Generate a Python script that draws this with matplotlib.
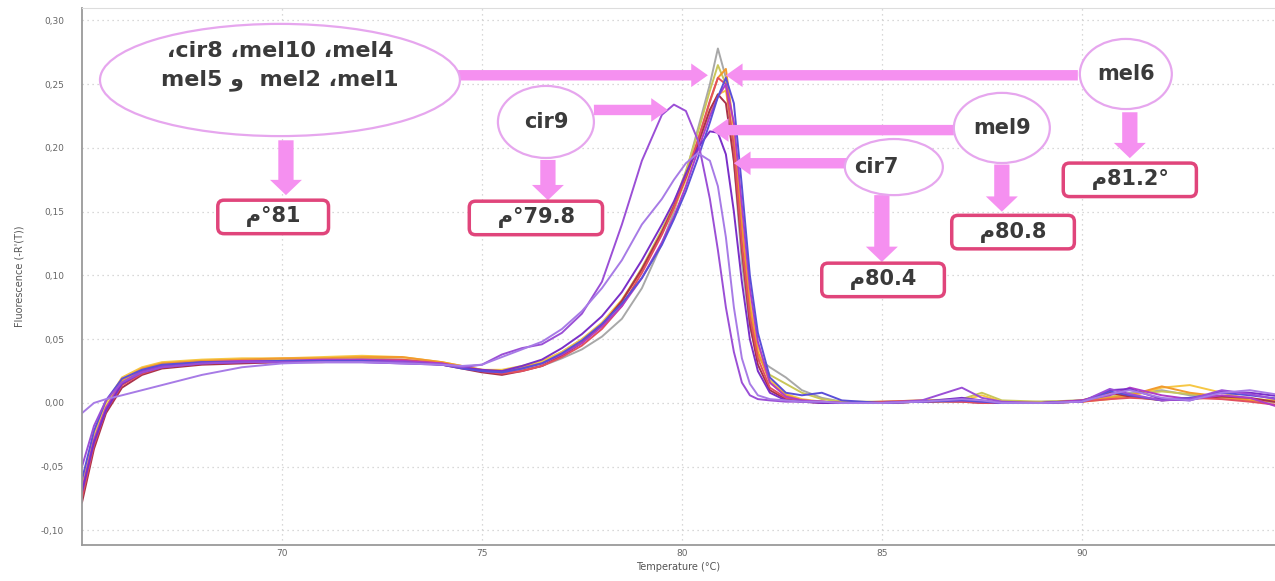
import matplotlib
matplotlib.use('Agg')
import matplotlib.pyplot as plt
from matplotlib.patches import Ellipse
from matplotlib.ticker import FuncFormatter

#--- melt curve data: temperature grid and -R'(T) per sample
temps = [65.0, 65.3, 65.6, 66.0, 66.5, 67.0,
         68.0, 69.0, 70.0, 71.0, 72.0, 73.0, 74.0,
         74.5, 75.0, 75.5, 76.0, 76.5, 77.0,
         77.5, 78.0, 78.5, 79.0, 79.5,
         79.8, 80.1, 80.4, 80.7, 80.9,
         81.1, 81.3, 81.5, 81.7, 81.9,
         82.2, 82.6, 83.0, 83.5, 84.0,
         85.0, 86.0, 87.0, 87.5, 88.0,
         89.0, 90.0, 90.7, 91.2, 92.0,
         92.7, 93.5, 94.2, 95.0]

gray_curve = [-0.068, -0.028, -0.004, 0.016, 0.025, 0.029,
              0.031, 0.032, 0.033, 0.033, 0.033, 0.033, 0.031,
              0.028, 0.025, 0.024, 0.026, 0.029, 0.035,
              0.042, 0.052, 0.066, 0.090, 0.125,
              0.150, 0.180, 0.215, 0.250, 0.278,
              0.255, 0.190, 0.110, 0.060, 0.035,
              0.028, 0.020, 0.010, 0.004, 0.001,
              0.000, 0.001, 0.002, 0.001, 0.000,
              0.001, 0.002, 0.004, 0.008, 0.010,
              0.006, 0.004, 0.002, 0.000]
olive_curve = [-0.066, -0.027, -0.003, 0.017, 0.026, 0.030,
               0.032, 0.033, 0.034, 0.034, 0.035, 0.034, 0.031,
               0.028, 0.025, 0.025, 0.028, 0.032, 0.040,
               0.050, 0.062, 0.080, 0.106, 0.136,
               0.156, 0.182, 0.212, 0.245, 0.265,
               0.250, 0.195, 0.120, 0.065, 0.038,
               0.022, 0.015, 0.008, 0.003, 0.001,
               0.001, 0.002, 0.003, 0.008, 0.002,
               0.001, 0.002, 0.005, 0.007, 0.009,
               0.007, 0.004, 0.002, 0.001]
orange_curve = [-0.072, -0.030, -0.004, 0.018, 0.027, 0.031,
                0.033, 0.034, 0.035, 0.035, 0.036, 0.036, 0.032,
                0.029, 0.026, 0.025, 0.028, 0.031, 0.038,
                0.048, 0.061, 0.080, 0.104, 0.134,
                0.154, 0.178, 0.206, 0.236, 0.255,
                0.262, 0.215, 0.140, 0.075, 0.040,
                0.016, 0.006, 0.002, 0.001, 0.000,
                0.000, 0.001, 0.002, 0.001, 0.000,
                0.000, 0.001, 0.004, 0.006, 0.013,
                0.008, 0.005, 0.002, 0.001]
gold_curve = [-0.064, -0.024, 0.000, 0.020, 0.028, 0.032,
              0.034, 0.035, 0.035, 0.036, 0.037, 0.036, 0.032,
              0.029, 0.026, 0.026, 0.029, 0.033, 0.040,
              0.050, 0.063, 0.081, 0.105, 0.133,
              0.152, 0.175, 0.202, 0.228, 0.242,
              0.245, 0.205, 0.140, 0.080, 0.045,
              0.018, 0.007, 0.003, 0.001, 0.000,
              0.000, 0.001, 0.002, 0.006, 0.001,
              0.000, 0.001, 0.003, 0.005, 0.012,
              0.014, 0.008, 0.003, 0.002]
red_curve = [-0.074, -0.033, -0.006, 0.014, 0.023, 0.028,
             0.031, 0.032, 0.033, 0.033, 0.034, 0.034, 0.031,
             0.028, 0.025, 0.023, 0.025, 0.029, 0.036,
             0.045, 0.058, 0.076, 0.102, 0.132,
             0.153, 0.178, 0.206, 0.237, 0.255,
             0.250, 0.200, 0.125, 0.068, 0.035,
             0.012, 0.004, 0.002, 0.001, 0.000,
             0.001, 0.002, 0.001, 0.000, 0.000,
             0.000, 0.001, 0.003, 0.004, 0.003,
             0.004, 0.003, 0.001, -0.002]
darkred_curve = [-0.078, -0.036, -0.008, 0.012, 0.022, 0.027,
                 0.030, 0.031, 0.032, 0.032, 0.033, 0.033, 0.030,
                 0.027, 0.024, 0.022, 0.025, 0.029, 0.037,
                 0.047, 0.061, 0.080, 0.105, 0.134,
                 0.154, 0.177, 0.203, 0.230, 0.242,
                 0.235, 0.190, 0.120, 0.062, 0.030,
                 0.010, 0.003, 0.001, 0.000, 0.000,
                 0.000, 0.001, 0.001, 0.000, 0.000,
                 0.000, 0.002, 0.008, 0.005, 0.002,
                 0.003, 0.005, 0.004, 0.000]
mel6_curve = [-0.060, -0.022, 0.002, 0.019, 0.026, 0.030,
              0.032, 0.032, 0.033, 0.033, 0.033, 0.032, 0.030,
              0.027, 0.025, 0.024, 0.027, 0.031, 0.039,
              0.049, 0.062, 0.078, 0.098, 0.124,
              0.144, 0.166, 0.192, 0.220, 0.240,
              0.255, 0.235, 0.170, 0.100, 0.055,
              0.020, 0.008, 0.006, 0.008, 0.002,
              0.000, 0.001, 0.002, 0.001, 0.000,
              0.000, 0.001, 0.009, 0.006, 0.002,
              0.004, 0.008, 0.006, 0.003]
mel9_curve = [-0.070, -0.031, -0.006, 0.015, 0.024, 0.028,
              0.031, 0.032, 0.032, 0.032, 0.032, 0.031, 0.030,
              0.028, 0.026, 0.025, 0.029, 0.034, 0.043,
              0.054, 0.068, 0.087, 0.112, 0.140,
              0.158, 0.180, 0.200, 0.213, 0.212,
              0.195, 0.150, 0.095, 0.050, 0.025,
              0.008, 0.002, 0.001, 0.000, 0.000,
              0.000, 0.001, 0.004, 0.002, 0.000,
              0.000, 0.001, 0.010, 0.011, 0.003,
              0.002, 0.009, 0.008, 0.005]
cir9_curve = [-0.050, -0.018, 0.002, 0.016, 0.024, 0.028,
              0.031, 0.032, 0.032, 0.032, 0.032, 0.032, 0.030,
              0.028, 0.030, 0.038, 0.043, 0.046, 0.055,
              0.070, 0.095, 0.140, 0.190, 0.226,
              0.234, 0.229, 0.206, 0.160, 0.120,
              0.075, 0.040, 0.016, 0.006, 0.003,
              0.002, 0.001, 0.001, 0.001, 0.000,
              0.000, 0.002, 0.012, 0.004, 0.001,
              0.000, 0.001, 0.011, 0.007, 0.002,
              0.003, 0.010, 0.007, 0.002]
cir7_curve = [-0.008, 0.000, 0.003, 0.006, 0.010, 0.014,
              0.022, 0.028, 0.031, 0.032, 0.032, 0.031, 0.030,
              0.029, 0.030, 0.036, 0.042, 0.048, 0.058,
              0.072, 0.090, 0.112, 0.140, 0.160,
              0.175, 0.188, 0.196, 0.190, 0.170,
              0.130, 0.075, 0.035, 0.015, 0.006,
              0.003, 0.002, 0.001, 0.001, 0.000,
              0.000, 0.001, 0.003, 0.002, 0.000,
              0.000, 0.001, 0.007, 0.010, 0.004,
              0.002, 0.008, 0.010, 0.006]
magenta_curve = [-0.068, -0.029, -0.004, 0.016, 0.025, 0.029,
                 0.032, 0.033, 0.033, 0.034, 0.034, 0.033, 0.031,
                 0.028, 0.025, 0.024, 0.027, 0.031, 0.038,
                 0.047, 0.060, 0.076, 0.098, 0.126,
                 0.146, 0.170, 0.198, 0.225, 0.240,
                 0.250, 0.220, 0.155, 0.090, 0.048,
                 0.016, 0.005, 0.002, 0.001, 0.000,
                 0.000, 0.001, 0.002, 0.001, 0.000,
                 0.000, 0.002, 0.006, 0.012, 0.006,
                 0.003, 0.006, 0.004, -0.004]

curves = [
    (gray_curve, '#a8a8a8'),
    (olive_curve, '#c9c65a'),
    (gold_curve, '#f6c744'),
    (orange_curve, '#f29a2e'),
    (darkred_curve, '#a8324a'),
    (red_curve, '#e2505e'),
    (magenta_curve, '#b03cc8'),
    (mel9_curve, '#7a2fc8'),
    (mel6_curve, '#5b4fd8'),
    (cir9_curve, '#9b4fd6'),
    (cir7_curve, '#a77be6'),
]

#--- annotation texts (sample names and melting temperatures)
group_lines = ['،cir8 ،mel10 ،mel4', 'mel5 و  mel2 ،mel1']
tm_labels = ['م°81', 'م°79.8', 'م80.4', 'م80.8', 'م81.2°']

pink = '#f590f0'
ring = '#e6a6ee'
box_edge = '#e0457b'
txt = '#3a3a3a'

fig = plt.figure(figsize=(12.75, 5.81), dpi=100)
ax = fig.add_axes([0.0643, 0.062, 0.9357, 0.9243])

for values, color in curves:
    ax.plot(temps, values, color=color, lw=1.4, zorder=2)

ax.set_xlim(65, 94.83)
ax.set_ylim(-0.1114, 0.3098)
ax.set_xticks([70, 75, 80, 85, 90])
ax.set_yticks([-0.10, -0.05, 0.0, 0.05, 0.10, 0.15, 0.20, 0.25, 0.30])
ax.yaxis.set_major_formatter(FuncFormatter(lambda v, _: f'{v:.2f}'.replace('.', ',')))
ax.tick_params(length=0, labelsize=6.5, labelcolor='#666666')
ax.tick_params(axis='y', pad=13)
ax.tick_params(axis='x', pad=3)
ax.grid(True, color='#cccccc', linestyle=(0, (1, 3)), lw=0.9)
for side in ['left', 'bottom']:
    ax.spines[side].set_color('#9a9a9a')
    ax.spines[side].set_linewidth(1.3)
ax.spines['top'].set_color('#dddddd')
ax.spines['right'].set_visible(False)
ax.set_xlabel('Temperature (°C)', fontsize=7, color='#555555', labelpad=3)
ax.set_ylabel("Fluorescence (-R'(T))", fontsize=7, color='#555555', labelpad=12)


def arrow(start, end, tail=0.75, head_w=1.7, head_l=1.2):
    style = f'simple,head_length={head_l},head_width={head_w},tail_width={tail}'
    ax.annotate('', xy=end, xytext=start, zorder=4,
                arrowprops=dict(arrowstyle=style, color=pink, lw=0,
                                shrinkA=0, shrinkB=0, mutation_scale=10))


def bubble(center, w, h):
    ax.add_patch(Ellipse(center, w, h, fc='white', ec=ring, lw=1.6, zorder=5))


# horizontal arrows pointing at the peaks
arrow((74.4, 0.257), (80.65, 0.257))
arrow((89.9, 0.257), (81.1, 0.257))
arrow((77.8, 0.2298), (79.65, 0.2298))
arrow((86.8, 0.214), (80.75, 0.214))
arrow((84.2, 0.188), (81.3, 0.188))

# downward arrows to the Tm boxes
for x, y0, y1 in [(70.1, 0.206, 0.163), (76.65, 0.1906, 0.159),
                  (85.0, 0.163, 0.1106), (88.0, 0.187, 0.150), (91.2, 0.228, 0.192)]:
    arrow((x, y0), (x, y1), tail=1.1, head_w=2.3, head_l=1.1)

# sample name bubbles
bubble((69.95, 0.2533), 9.0, 0.088)
ax.text(69.95, 0.2645, '\n'.join(group_lines), ha='center', va='center',
        fontsize=16, fontweight='bold', color=txt, linespacing=1.5, zorder=6)
for (x, y), w, h, name, tx in [((76.6, 0.2204), 2.4, 0.0565, 'cir9', 76.6),
                               ((88.0, 0.2157), 2.4, 0.055, 'mel9', 88.0),
                               ((91.1, 0.258), 2.3, 0.055, 'mel6', 91.1),
                               ((85.3, 0.185), 2.45, 0.044, 'cir7', 84.85)]:
    bubble((x, y), w, h)
    ax.text(tx, y, name, ha='center', va='center', fontsize=15, fontweight='bold',
            color=txt, zorder=6)

# melting temperature boxes
for (x, y), label in zip([(69.78, 0.1459), (76.35, 0.1451), (85.03, 0.0965),
                          (88.28, 0.134), (91.2, 0.175)], tm_labels):
    ax.text(x, y, f'   {label}   ', ha='center', va='center', fontsize=15,
            fontweight='bold', color=txt, zorder=6,
            bbox=dict(boxstyle='round,pad=0.3,rounding_size=0.3', fc='white',
                      ec=box_edge, lw=2.5))

fig.savefig('out.png', dpi=100)
